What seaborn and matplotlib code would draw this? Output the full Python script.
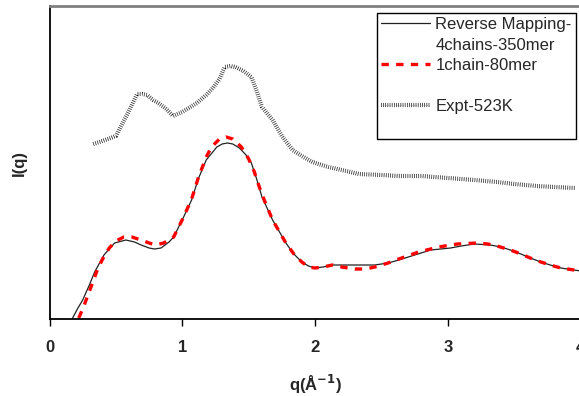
import matplotlib
matplotlib.use("Agg")
import matplotlib.pyplot as plt
import matplotlib.patheffects as pe
from matplotlib.lines import Line2D
import seaborn as sns
import pandas as pd

# ---- data (intensity in arbitrary units) ----
q_rev = [0.17, 0.21, 0.25, 0.30, 0.34, 0.41, 0.49, 0.575, 0.64, 0.69, 0.75, 0.79, 0.84, 0.90, 0.935,
         1.01, 1.07, 1.12, 1.18, 1.26, 1.30, 1.34, 1.38, 1.43, 1.48, 1.52, 1.56, 1.60, 1.68, 1.78,
         1.84, 1.90, 1.95, 2.0, 2.06, 2.13, 2.25, 2.35, 2.45, 2.55, 2.63, 2.75, 2.87, 3.02, 3.1,
         3.2, 3.32, 3.4, 3.47, 3.55, 3.62, 3.7, 3.77, 3.85, 3.95, 4.0]
I_rev = [0, 10, 19, 34, 47, 64, 76, 79, 77, 74, 71, 70, 71, 77, 82,
         102, 119, 140, 159, 172, 175, 176, 175, 171, 164, 156, 140, 122, 99, 76,
         65, 57, 53, 51, 52, 54, 54, 54, 54, 56, 59, 64, 69, 71, 73,
         75, 74, 72, 69, 65, 61, 57, 54, 51, 49, 48]

q_1ch = [0.22, 0.25, 0.29, 0.36, 0.40, 0.45, 0.50, 0.56, 0.62, 0.69, 0.75, 0.80, 0.86, 0.935, 1.01,
         1.07, 1.12, 1.18, 1.22, 1.28, 1.33, 1.38, 1.445, 1.50, 1.54, 1.58, 1.62, 1.68, 1.78, 1.84,
         1.90, 1.95, 2.0, 2.06, 2.13, 2.2, 2.3, 2.38, 2.45, 2.55, 2.63, 2.78, 2.93, 3.07, 3.22,
         3.3, 3.37, 3.47, 3.55, 3.62, 3.7, 3.77, 3.85, 3.95, 4.0]
I_1ch = [1, 10, 24, 49, 60, 71, 78, 82, 82, 79, 76, 74, 76, 82, 102,
         120, 141, 162, 172, 180, 182, 180, 172, 160, 148, 132, 118, 99, 76, 65,
         57, 52, 51, 52, 54, 52, 50, 50, 52, 56, 60, 67, 72, 75, 76,
         75, 73, 69, 65, 61, 57, 54, 51, 49, 48]

q_exp = [0.33, 0.42, 0.50, 0.575, 0.62, 0.66, 0.70, 0.735, 0.78, 0.82, 0.88, 0.93, 1.0, 1.11,
         1.18, 1.23, 1.28, 1.32, 1.36, 1.40, 1.46, 1.52, 1.56, 1.60, 1.68, 1.75, 1.83, 1.90,
         1.98, 2.1, 2.2, 2.33, 2.5, 2.63, 2.8, 3.0, 3.2, 3.37, 3.5, 3.67, 3.8, 3.96]
I_exp = [175, 179, 183, 202, 214, 225, 225, 224, 219, 216, 210, 203, 207, 216,
         224, 231, 240, 252, 253, 252, 248, 242, 228, 212, 199, 183, 169, 163,
         157, 152, 149, 145, 144, 143, 143, 141, 139, 137, 135, 133, 132, 131]

x_ticks = [0, 1, 2, 3, 4]
labels = ["Reverse Mapping-", "4chains-350mer", "1chain-80mer", "Expt-523K"]

sns.set_style("white")
plt.rcParams["font.family"] = ["Liberation Sans", "DejaVu Sans"]

fig = plt.figure(figsize=(5.79, 3.96), dpi=100)
ax = fig.add_axes([49.5 / 579, 77 / 396, 531.2 / 579, 313 / 396])

df_rev = pd.DataFrame({"q": q_rev, "I": I_rev})
df_1ch = pd.DataFrame({"q": q_1ch, "I": I_1ch})
df_exp = pd.DataFrame({"q": q_exp, "I": I_exp})

exp_fx = [pe.Stroke(linewidth=3.0, foreground="#0d0d0d"), pe.Normal()]

sns.lineplot(data=df_rev, x="q", y="I", ax=ax, sort=False, color="#222222", lw=0.9)
sns.lineplot(data=df_1ch, x="q", y="I", ax=ax, sort=False, color="#ff0000", lw=2.4,
             linestyle=(0, (2.2, 2.2)))
sns.lineplot(data=df_exp, x="q", y="I", ax=ax, sort=False, color="#8a8a8a", lw=0.6,
             linestyle=(0, (0.8, 1.8)), path_effects=exp_fx)

ax.set_xlim(0, 4)
ax.set_ylim(0, 313)
ax.set_xticks(x_ticks)
ax.set_xticklabels([str(t) for t in x_ticks], fontweight="bold", fontsize=12)
ax.set_yticks([])
ax.tick_params(axis="x", direction="out", length=5, width=1, color="black", pad=10, bottom=True)
ax.set_xlabel("q(Å$^{\\mathbf{-1}}$)", fontweight="bold", fontsize=12, labelpad=13)
ax.set_ylabel("I(q)", fontweight="bold", fontsize=12, labelpad=16)

for s in ["left", "bottom"]:
    ax.spines[s].set_color("black")
    ax.spines[s].set_linewidth(1.3)
ax.spines["top"].set_color("#808080")
ax.spines["top"].set_linewidth(2)
ax.spines["right"].set_visible(False)

h_rev = Line2D([], [], color="#222222", lw=0.9)
h_blank = Line2D([], [], color="none")
h_1ch = Line2D([], [], color="#ff0000", lw=2.4, linestyle=(0, (2.2, 2.2)))
h_exp = Line2D([], [], color="#8a8a8a", lw=0.6, linestyle=(0, (0.8, 1.8)), path_effects=exp_fx)
leg = fig.legend([h_rev, h_blank, h_1ch, h_blank, h_exp, h_blank],
                 [labels[0], labels[1], labels[2], " ", labels[3], " "],
                 loc="upper left", bbox_to_anchor=(377 / 579, 1 - 13 / 396),
                 fontsize=12, frameon=True, fancybox=False, framealpha=1,
                 edgecolor="black", labelspacing=0.33, handlelength=2.95,
                 handletextpad=0.3, borderpad=0.25, borderaxespad=0)
leg.get_frame().set_linewidth(1)

fig.savefig("out.png", dpi=100)
